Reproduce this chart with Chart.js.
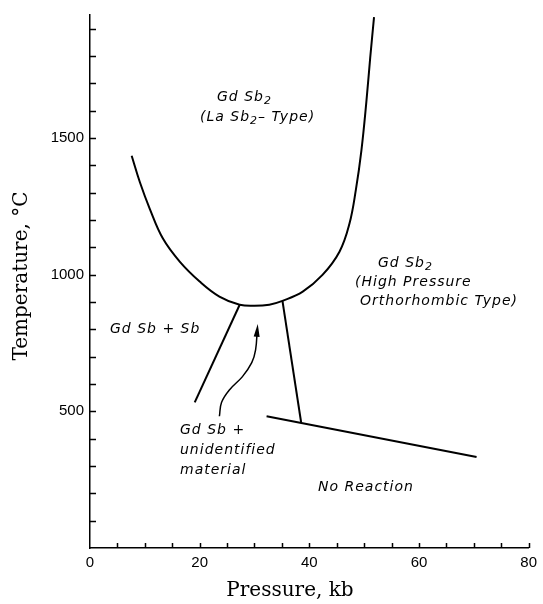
<!DOCTYPE html>
<html>
<head>
<meta charset="utf-8">
<script src="https://cdn.jsdelivr.net/npm/chart.js@4/dist/chart.umd.min.js"></script>
<style>
  body { margin: 0; background: #fff; }
</style>
</head>
<body>
<canvas id="phase" width="543" height="604"></canvas>
<script>
// tick labels
var xLabels = [0, 20, 40, 60, 80];
var yLabels = [500, 1000, 1500];

// LaSb2-type boundary (U shaped curve)
var uCurveP = [7.6, 9.1, 10.9, 13.3, 16.4, 20.0, 23.6, 27.3, 30.0, 32.7, 35.1, 38.8, 42.4, 45.5, 47.3, 48.5, 49.5, 50.4, 51.1, 51.8];
var uCurveT = [1435, 1338, 1241, 1132, 1047, 975, 920, 890, 886, 890, 904, 938, 999, 1084, 1185, 1312, 1455, 1632, 1793, 1942];

// GdSb + Sb / unidentified boundary
var leftLineP = [27.3, 19.1];
var leftLineT = [890, 533];

// unidentified / high pressure boundary
var rightLineP = [35.1, 38.5];
var rightLineT = [904, 460];

// no reaction boundary
var bottomLineP = [32.2, 70.5];
var bottomLineT = [482, 333];

// arrow pointing into the unidentified field
var arrowP = [23.6, 24.0, 25.5, 27.8, 29.5, 30.2, 30.5];
var arrowT = [482, 533, 580, 627, 678, 725, 798];

function pts(xs, ys) {
    return xs.map(function (x, i) { return { x: x, y: ys[i] }; });
}

function lineSet(xs, ys, tension) {
    return {
        data: pts(xs, ys),
        showLine: true,
        borderColor: '#000',
        borderWidth: 2,
        pointRadius: 0,
        fill: false,
        tension: tension
    };
}

// draws text with subscripts: parts = [['Gd Sb'], ['2', true]]
function drawParts(ctx, parts, x, y) {
    parts.forEach(function (p) {
        if (p[1]) {
            ctx.font = 'oblique 11px "DejaVu Sans"';
            ctx.fillText(p[0], x, y + 4);
        } else {
            ctx.font = 'oblique 14px "DejaVu Sans"';
            ctx.fillText(p[0], x, y);
        }
        x += ctx.measureText(p[0]).width;
    });
}

var decorations = {
    id: 'decorations',
    afterDraw: function (chart) {
        var ctx = chart.ctx;
        var xs = chart.scales.x, ys = chart.scales.y;
        ctx.save();
        ctx.strokeStyle = '#000';
        ctx.fillStyle = '#000';
        ctx.lineWidth = 1.5;

        // inward ticks
        ctx.beginPath();
        for (var t = 100; t <= 1900; t += 100) {
            var py = Math.round(ys.getPixelForValue(t)) + 0.5;
            ctx.moveTo(xs.left, py);
            ctx.lineTo(xs.left + 6, py);
        }
        for (var p = 5; p <= 80; p += 5) {
            var px = Math.round(xs.getPixelForValue(p)) + 0.5;
            ctx.moveTo(px, ys.bottom);
            ctx.lineTo(px, ys.bottom - 5);
        }
        ctx.stroke();

        // arrowhead
        var meta = chart.getDatasetMeta(4).data;
        var a = meta[meta.length - 2], b = meta[meta.length - 1];
        var ang = Math.atan2(b.y - a.y, b.x - a.x);
        ctx.save();
        ctx.translate(b.x, b.y);
        ctx.rotate(ang);
        ctx.beginPath();
        ctx.moveTo(6, 0);
        ctx.lineTo(-7, -3);
        ctx.lineTo(-7, 3);
        ctx.closePath();
        ctx.fill();
        ctx.restore();

        // axis titles
        ctx.font = '20px "DejaVu Serif"';
        ctx.textAlign = 'center';
        ctx.textBaseline = 'middle';
        ctx.fillText('Pressure, kb', 290, 591);
        ctx.save();
        ctx.translate(22, 276);
        ctx.rotate(-Math.PI / 2);
        ctx.fillText('Temperature, \u00B0C', 0, 0);
        ctx.restore();

        // field labels
        ctx.textAlign = 'left';
        ctx.letterSpacing = '1px';
        drawParts(ctx, [['Gd Sb'], ['2', true]], 217, 97);
        drawParts(ctx, [['(La Sb'], ['2', true], ['\u2013 Type)']], 200, 117);
        drawParts(ctx, [['Gd Sb'], ['2', true]], 378, 263);
        drawParts(ctx, [['(High Pressure']], 355, 282);
        drawParts(ctx, [['Orthorhombic Type)']], 360, 301);
        drawParts(ctx, [['Gd Sb + Sb']], 110, 329);
        drawParts(ctx, [['Gd Sb +']], 180, 430);
        drawParts(ctx, [['unidentified']], 180, 450);
        drawParts(ctx, [['material']], 180, 470);
        drawParts(ctx, [['No Reaction']], 318, 487);
        ctx.restore();
    }
};

new Chart(document.getElementById('phase'), {
    type: 'scatter',
    data: {
        datasets: [
            lineSet(uCurveP, uCurveT, 0.4),
            lineSet(leftLineP, leftLineT, 0),
            lineSet(rightLineP, rightLineT, 0),
            lineSet(bottomLineP, bottomLineT, 0),
            Object.assign(lineSet(arrowP, arrowT, 0.4), { borderWidth: 1.5 })
        ]
    },
    options: {
        responsive: false,
        animation: false,
        devicePixelRatio: 1,
        layout: { padding: { left: 0, right: 13, top: 12, bottom: 0 } },
        plugins: {
            legend: { display: false },
            tooltip: { enabled: false }
        },
        scales: {
            x: {
                type: 'linear',
                min: 0,
                max: 80,
                grid: { drawOnChartArea: false, drawTicks: false },
                border: { color: '#000', width: 1.5 },
                ticks: {
                    stepSize: 5,
                    autoSkip: false,
                    maxRotation: 0,
                    padding: 6,
                    color: '#000',
                    font: { family: 'Liberation Sans', size: 15 },
                    callback: function (v) { return xLabels.indexOf(v) >= 0 ? String(v) : ''; }
                },
                afterFit: function (s) { s.height = 56; }
            },
            y: {
                type: 'linear',
                min: 0,
                max: 1950,
                grid: { drawOnChartArea: false, drawTicks: false },
                border: { color: '#000', width: 1.5 },
                ticks: {
                    stepSize: 100,
                    includeBounds: false,
                    autoSkip: false,
                    padding: 6,
                    color: '#000',
                    font: { family: 'Liberation Sans', size: 15 },
                    callback: function (v) { return yLabels.indexOf(v) >= 0 ? String(v) : ''; }
                },
                afterFit: function (s) { s.width = 90; }
            }
        }
    },
    plugins: [decorations]
});
</script>
</body>
</html>
